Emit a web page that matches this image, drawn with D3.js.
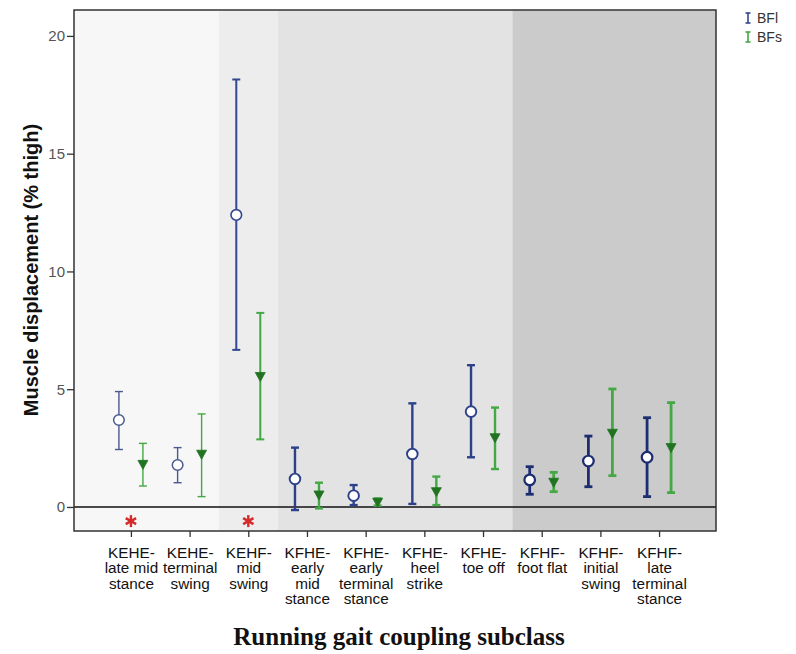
<!DOCTYPE html>
<html>
<head>
<meta charset="utf-8">
<script src="https://cdn.jsdelivr.net/npm/d3@7"></script>
<style>
  html, body { margin: 0; padding: 0; background: #ffffff; }
  svg { display: block; }
</style>
</head>
<body>
<svg id="chart" width="796" height="654"></svg>
<script>
// ---------- data ----------
const categories = [
  "KEHE-late mid stance", "KEHE-terminal swing", "KEHF-mid swing",
  "KFHE-early mid stance", "KFHE-early terminal stance", "KFHE-heel strike",
  "KFHE-toe off", "KFHF-foot flat", "KFHF-initial swing", "KFHF-late terminal stance"
];
const categoryLines = [
  ["KEHE-", "late mid", "stance"],
  ["KEHE-", "terminal", "swing"],
  ["KEHF-", "mid", "swing"],
  ["KFHE-", "early", "mid", "stance"],
  ["KFHE-", "early", "terminal", "stance"],
  ["KFHE-", "heel", "strike"],
  ["KFHE-", "toe off"],
  ["KFHF-", "foot flat"],
  ["KFHF-", "initial", "swing"],
  ["KFHF-", "late", "terminal", "stance"]
];
const groups = ["KEHE", "KEHF", "KFHE", "KFHF"];
const categoryGroup = [0, 0, 1, 2, 2, 2, 2, 3, 3, 3];

const bflMean  = [3.69, 1.78, 12.40, 1.19, 0.48, 2.25, 4.05, 1.15, 1.95, 2.11];
const bflUpper = [4.90, 2.52, 18.15, 2.52, 0.93, 4.40, 6.02, 1.71, 3.01, 3.79];
const bflLower = [2.44, 1.03, 6.67, -0.13, 0.08, 0.13, 2.11, 0.54, 0.86, 0.44];

const bfsMean  = [1.81, 2.24, 5.54, 0.51, 0.20, 0.65, 2.94, 1.05, 3.13, 2.52];
const bfsUpper = [2.70, 3.95, 8.24, 1.03, 0.36, 1.29, 4.22, 1.47, 5.01, 4.43];
const bfsLower = [0.89, 0.44, 2.87, -0.06, 0.06, 0.08, 1.61, 0.65, 1.33, 0.61];

const significant = ["KEHE-late mid stance", "KEHF-mid swing"];
const starValue = -0.6;

const yTicks = [0, 5, 10, 15, 20];
const seriesNames = ["BFl", "BFs"];

// ---------- layout ----------
const svg = d3.select("#chart");
const L = 74, R = 716, T = 10, B = 531;
const blueByGroup = ["#4a5a8e", "#33478f", "#2c418a", "#1d2d72"];
const green = "#44a844", greenDark = "#217321";
const groupFill = ["#f7f7f7", "#ededed", "#e3e3e3", "#cbcbcb"];
const groupWidth = [1.4, 2, 2.4, 2.8];

const x = d3.scalePoint().domain(categories).range([L, R]).padding(0.97);
const y = d3.scaleLinear().domain([-1.02, 21.1]).range([B, T]);
const step = x.step();
const off = 12;

// background bands per group
groups.forEach((g, gi) => {
  const idx = categoryGroup.map((v, i) => v === gi ? i : -1).filter(i => i >= 0);
  const first = idx[0], last = idx[idx.length - 1];
  const x0 = first === 0 ? L : x(categories[first]) - step / 2;
  const x1 = last === categories.length - 1 ? R : x(categories[last]) + step / 2;
  svg.append("rect").attr("x", x0).attr("y", T).attr("width", x1 - x0).attr("height", B - T)
    .attr("fill", groupFill[gi]);
});

// zero line
svg.append("line").attr("x1", L).attr("x2", R).attr("y1", y(0)).attr("y2", y(0))
  .attr("stroke", "#111").attr("stroke-width", 1.6);

// frame
svg.append("rect").attr("x", L).attr("y", T).attr("width", R - L).attr("height", B - T)
  .attr("fill", "none").attr("stroke", "#333").attr("stroke-width", 1.5);

// y axis
const yAxis = svg.append("g").attr("transform", `translate(${L},0)`)
  .call(d3.axisLeft(y).tickValues(yTicks).tickSize(7).tickPadding(2).tickFormat(d3.format("d")));
yAxis.select(".domain").remove();
yAxis.selectAll(".tick line").attr("stroke", "#333").attr("stroke-width", 1.3);
yAxis.selectAll(".tick text").attr("fill", "#555").attr("font-family", "Liberation Sans, Arial, sans-serif")
  .attr("font-size", 15);

// x axis
const xAxis = svg.append("g").attr("transform", `translate(0,${B})`)
  .call(d3.axisBottom(x).tickSize(6).tickFormat(""));
xAxis.select(".domain").remove();
xAxis.selectAll(".tick line").attr("stroke", "#333").attr("stroke-width", 1.3);
xAxis.selectAll(".tick").each(function(d, i) {
  const t = d3.select(this).append("text").attr("fill", "#111")
    .attr("font-family", "Liberation Sans, Arial, sans-serif").attr("font-size", 15.3)
    .attr("text-anchor", "middle");
  categoryLines[i].forEach((line, li) => {
    t.append("tspan").attr("x", 0).attr("y", 26.5 + li * 15.6).text(line);
  });
});

// error bars
function errorBar(sel, cx, lo, hi, color, w) {
  sel.append("line").attr("x1", cx).attr("x2", cx).attr("y1", y(lo)).attr("y2", y(hi))
    .attr("stroke", color).attr("stroke-width", w);
  [lo, hi].forEach(v => sel.append("line").attr("x1", cx - 4).attr("x2", cx + 4)
    .attr("y1", y(v)).attr("y2", y(v)).attr("stroke", color).attr("stroke-width", w));
}

const marks = svg.append("g");
categories.forEach((c, i) => {
  const gi = categoryGroup[i];
  const w = groupWidth[gi];
  const blue = blueByGroup[gi];
  const cb = x(c) - off, cg = x(c) + off;
  errorBar(marks, cb, bflLower[i], bflUpper[i], blue, w);
  marks.append("circle").attr("cx", cb).attr("cy", y(bflMean[i])).attr("r", 5.3)
    .attr("fill", "#fff").attr("stroke", blue).attr("stroke-width", Math.max(1.5, w * 0.8));
  errorBar(marks, cg, bfsLower[i], bfsUpper[i], green, w);
  const ty = y(bfsMean[i]);
  marks.append("path")
    .attr("d", `M${cg - 5},${ty - 4}L${cg + 5},${ty - 4}L${cg},${ty + 5}Z`)
    .attr("fill", greenDark).attr("stroke", greenDark).attr("stroke-width", 0.8);
});

// significance asterisks
significant.forEach(c => {
  const cx = x(c), cy = y(starValue), r = 6;
  const g = svg.append("g").attr("stroke", "#d42a2a").attr("stroke-width", 2.4);
  [90, 30, 150].forEach(a => {
    const rad = a * Math.PI / 180;
    g.append("line").attr("x1", cx - r * Math.cos(rad)).attr("y1", cy - r * Math.sin(rad))
      .attr("x2", cx + r * Math.cos(rad)).attr("y2", cy + r * Math.sin(rad));
  });
});

// legend
const legColors = ["#33478f", green];
seriesNames.forEach((n, i) => {
  const ly = 18 + i * 19;
  const g = svg.append("g").attr("stroke", legColors[i]).attr("stroke-width", 1.6);
  g.append("line").attr("x1", 748).attr("x2", 748).attr("y1", ly - 5).attr("y2", ly + 5);
  g.append("line").attr("x1", 745.5).attr("x2", 750.5).attr("y1", ly - 5).attr("y2", ly - 5);
  g.append("line").attr("x1", 745.5).attr("x2", 750.5).attr("y1", ly + 5).attr("y2", ly + 5);
  svg.append("text").attr("x", 757).attr("y", ly + 5).text(n)
    .attr("font-family", "Liberation Sans, Arial, sans-serif").attr("font-size", 14).attr("fill", "#333");
});

// axis titles
svg.append("text").attr("transform", `translate(38,${270}) rotate(-90)`)
  .attr("text-anchor", "middle").attr("font-family", "Liberation Sans, Arial, sans-serif")
  .attr("font-weight", "bold").attr("font-size", 20).attr("fill", "#111")
  .text("Muscle displacement (% thigh)");

svg.append("text").attr("x", 399).attr("y", 645).attr("text-anchor", "middle")
  .attr("font-family", "Liberation Serif, Times New Roman, serif").attr("font-weight", "bold")
  .attr("font-size", 25).attr("fill", "#111").text("Running gait coupling subclass");
</script>
</body>
</html>
